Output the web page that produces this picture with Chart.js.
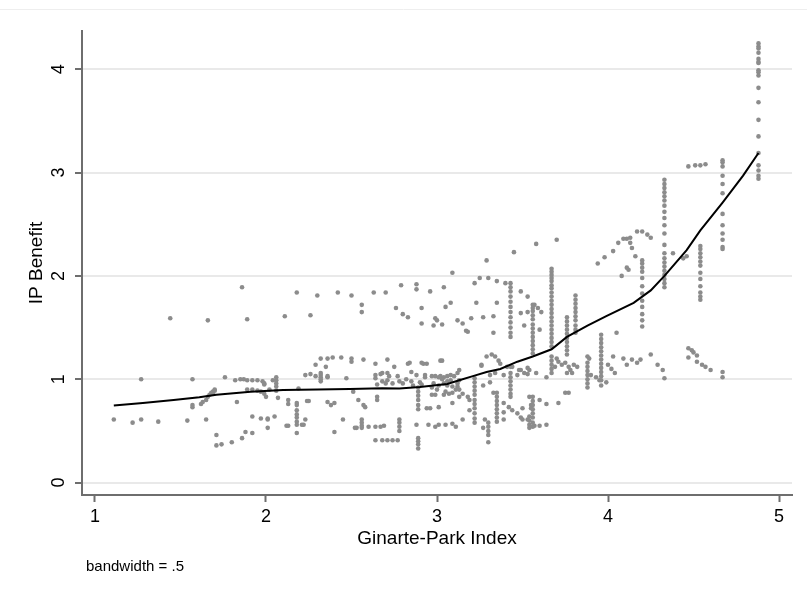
<!DOCTYPE html>
<html>
<head>
<meta charset="utf-8">
<script src="https://cdn.jsdelivr.net/npm/chart.js@4.4.1/dist/chart.umd.min.js"></script>
<style>
  html, body { margin: 0; padding: 0; background: #fff; }
  #wrap { width: 807px; height: 597px; }
</style>
</head>
<body>
<div id="wrap"><canvas id="myChart" width="807" height="597"></canvas></div>
<script>
// Axis ticks
const xTicks = [1, 2, 3, 4, 5];
const yTicks = [0, 1, 2, 3, 4];

// Lowess smooth (bandwidth .5)
const lowessX = [1.11, 1.28, 1.46, 1.61, 1.71, 1.91, 2.10, 2.30, 2.49, 2.68, 2.78, 2.90, 2.98, 3.06, 3.13, 3.21, 3.29, 3.37, 3.47, 3.56, 3.67, 3.76, 3.88, 3.99, 4.15, 4.25, 4.33, 4.46, 4.54, 4.67, 4.79, 4.88];
const lowessY = [0.745, 0.77, 0.80, 0.826, 0.85, 0.88, 0.896, 0.90, 0.906, 0.913, 0.91, 0.925, 0.94, 0.955, 0.99, 1.03, 1.07, 1.10, 1.17, 1.22, 1.29, 1.41, 1.52, 1.61, 1.74, 1.86, 2.0, 2.25, 2.44, 2.71, 2.97, 3.19];

// Scattered observations, [index, benefit]
const ptsLeft = [
  [1.11,0.61],[1.22,0.58],[1.27,0.61],[1.27,1.00],[1.37,0.59],[1.44,1.59],[1.54,0.60],[1.57,1.00],
  [1.57,0.73],[1.57,0.75],[1.65,0.61],[1.66,1.57],[1.62,0.76],[1.63,0.78],[1.65,0.80],[1.66,0.83],
  [1.67,0.85],[1.68,0.87],[1.69,0.88],[1.70,0.89],[1.70,0.90],[1.69,0.86],[1.71,0.46],[1.71,0.36],
  [1.74,0.37],[1.76,1.02],[1.80,0.39],[1.83,0.78],[1.86,1.89],[1.86,0.43],[1.88,0.49],[1.89,1.58],
  [1.92,0.48],[1.82,0.99],[1.85,1.00],[1.87,1.00],[1.89,0.99],[1.92,0.99],[1.95,0.99],[1.98,0.98],
  [1.99,0.95],[1.89,0.90],[1.92,0.90],[1.95,0.89],[1.97,0.88],[1.99,0.86],[2.02,0.90],[1.92,0.64],
  [1.97,0.62],[2.01,0.62],[2.05,0.64],[2.01,0.53],[2.00,0.83],[1.99,0.96],[2.04,0.99]
];

const ptsMid = [
  [2.18,1.84],[2.30,1.81],[2.42,1.84],[2.50,1.81],[2.63,1.84],[2.70,1.84],[2.79,1.91],[2.88,1.92],
  [2.88,1.87],[2.96,1.85],[2.11,1.61],[2.26,1.62],[2.56,1.72],[2.56,1.65],[2.76,1.69],[2.80,1.63],
  [2.83,1.60],[2.91,1.69],[2.91,1.54],[2.98,1.52],[2.99,1.59],
  [2.29,1.14],[2.32,1.20],[2.36,1.20],[2.39,1.21],[2.44,1.21],[2.50,1.20],[2.50,1.17],[2.57,1.19],
  [2.64,1.15],[2.71,1.19],[2.75,1.12],[2.83,1.15],[2.92,1.15],[2.94,1.15],[2.85,1.07],[2.35,1.12],
  [2.23,1.04],[2.26,1.05],[2.29,1.03],[2.36,1.02],[2.36,1.03],[2.47,1.01],[2.19,0.91],[2.07,0.82],
  [2.13,0.80],[2.13,0.76],[2.18,0.77],[2.25,0.79],[2.24,0.79],[2.36,0.78],[2.38,0.75],[2.40,0.77],
  [2.51,0.88],[2.54,0.80],[2.58,0.73],[2.65,0.83],[2.65,0.80],[2.57,0.75],
  [2.64,1.04],[2.68,1.06],[2.71,1.06],[2.72,1.03],[2.71,0.99],[2.68,0.98],[2.65,0.95],[2.70,0.96],
  [2.77,1.03],[2.78,0.98],[2.80,0.96],[2.82,1.00],[2.85,0.98],[2.86,0.94],[2.90,0.97],[2.91,0.95],
  [2.64,1.01],[2.67,1.05],[2.74,0.96],
  [2.01,0.61],[2.13,0.55],[2.12,0.55],[2.21,0.56],[2.23,0.61],[2.22,0.56],[2.40,0.49],[2.45,0.61],
  [2.53,0.53],[2.52,0.53],[2.60,0.54],[2.64,0.54],[2.67,0.54],[2.69,0.55],
  [2.64,0.41],[2.68,0.41],[2.71,0.41],[2.74,0.41],[2.77,0.41],
  [2.88,0.56],[2.95,0.56],[2.99,0.54],[3.01,0.56],[3.05,0.56],[3.09,0.57],[3.11,0.54]
];

const ptsCentre = [
  [2.97,1.03],[2.99,1.03],[3.02,1.03],[3.04,1.02],[3.06,1.03],[3.08,1.04],[3.02,1.18],[2.93,1.04],
  [2.98,0.96],[3.01,0.94],[3.04,0.96],[3.06,0.98],[3.06,0.94],[3.09,0.93],[3.12,0.93],[3.13,0.90],
  [3.11,0.90],[3.15,0.86],[3.18,0.83],[3.19,0.80],[3.13,0.83],[3.12,0.96],[3.13,0.99],[3.10,1.03],
  [3.12,1.06],[3.13,1.09],[2.84,1.16],[2.91,1.16],[3.03,1.00],[3.08,0.99],[2.97,0.92],[3.00,0.90],
  [3.05,0.88],[3.09,0.87],[2.88,1.04],[2.93,1.02],[3.01,1.02],
  [2.97,0.85],[2.99,0.85],[3.04,0.85],[3.07,0.86],[3.09,0.77],[2.96,0.72],[3.01,0.73],[2.94,0.72],
  [3.15,0.61],[3.19,0.70],
  [3.00,1.57],[3.03,1.53],[3.04,1.89],[3.05,1.70],[3.08,1.74],[3.09,2.03],[3.12,1.57],[3.15,1.54],
  [3.17,1.47],[3.18,1.46],[3.20,1.59],[3.22,1.93],[3.23,1.74],[3.25,1.98],[3.30,1.98],[3.29,2.15],
  [3.35,1.95],[3.27,1.60],[3.33,1.61],[3.33,1.45],[3.35,1.74],[3.40,1.93],[3.45,2.23],[3.49,1.85],
  [3.53,1.80],[3.49,1.64],[3.53,1.65],[3.51,1.52],[3.60,1.48],[3.58,2.31],[3.70,2.35],
  [3.57,1.72],[3.59,1.69],[3.61,1.65],
  [3.03,1.18],[3.26,1.13],[3.29,1.22],[3.32,1.24],[3.34,1.22],[3.36,1.18],[3.37,1.15],[3.26,1.14],
  [3.31,1.04],[3.34,1.06],[3.39,1.04],[3.43,1.12],[3.44,1.12],[3.48,1.09],[3.53,1.11],[3.53,1.05],
  [3.58,1.06],[3.41,1.12],[3.47,1.04],[3.49,1.09],[3.51,1.06],[3.54,1.09],[3.31,0.97],[3.27,0.94],
  [3.33,0.87],[3.35,0.87],[3.39,0.77],[3.39,0.68],[3.39,0.61],[3.42,0.73],[3.44,0.70],[3.47,0.67],
  [3.49,0.63],[3.50,0.61],[3.50,0.72],[3.53,0.61],[3.54,0.83],[3.55,0.75],[3.55,0.72],
  [3.57,0.55],[3.60,0.55],[3.64,0.56],[3.60,0.80],[3.64,0.76],[3.71,0.77],[3.75,0.87],[3.77,0.87],
  [3.28,0.61],[3.27,0.53],[3.64,1.02]
];

const ptsRight = [
  [3.71,1.17],[3.73,1.14],[3.75,1.16],[3.77,1.12],[3.78,1.09],[3.80,1.14],[3.82,1.12],[3.79,1.06],
  [3.76,1.06],[3.70,1.20],[3.69,1.12],[3.88,1.22],[3.89,1.20],[3.90,1.04],[3.93,1.02],[3.95,0.99],
  [3.99,0.97],[4.00,1.14],[4.02,1.10],[4.04,1.06],[4.03,1.22],[4.09,1.20],[4.11,1.14],[4.14,1.19],
  [4.17,1.16],[4.19,1.19],[4.25,1.24],[4.29,1.14],[4.32,1.09],[4.33,1.01],[4.05,1.45],
  [3.94,2.12],[3.98,2.18],[4.03,2.24],[4.06,2.32],[4.09,2.36],[4.11,2.36],[4.13,2.37],[4.17,2.43],
  [4.20,2.43],[4.23,2.40],[4.25,2.37],[4.13,2.32],[4.14,2.27],[4.16,2.19],[4.11,2.08],[4.12,2.06],
  [4.08,2.00],[4.38,2.22],[4.44,2.17],[4.46,2.19],
  [4.47,3.06],[4.51,3.07],[4.54,3.07],[4.57,3.08],
  [4.47,1.30],[4.49,1.28],[4.50,1.26],[4.52,1.23],[4.47,1.21],[4.52,1.17],[4.55,1.14],[4.57,1.12],
  [4.60,1.09],[4.67,1.07],[4.67,1.02]
];

// Vertical stacks of observations sharing one index value
const stackX = [2.06, 2.18, 2.32, 2.56, 2.78, 2.89, 2.89, 3.22, 3.30, 3.35, 3.43, 3.43, 3.54, 3.56, 3.67, 3.76, 3.81, 3.88, 3.96, 4.20, 4.33, 4.54, 4.67, 4.88];
const stackY = [
  [1.02, 0.99, 0.96, 0.93, 0.89],
  [0.75, 0.70, 0.66, 0.63, 0.59, 0.56, 0.48],
  [1.06, 1.04, 1.02, 1.00, 0.98],
  [0.61, 0.58, 0.55, 0.53],
  [0.61, 0.58, 0.54, 0.50],
  [0.92, 0.88, 0.84, 0.80, 0.75, 0.71],
  [0.43, 0.40, 0.37, 0.33],
  [1.01, 0.97, 0.93, 0.89, 0.85, 0.80, 0.76, 0.72, 0.67, 0.62, 0.58],
  [0.58, 0.54, 0.50, 0.46, 0.39],
  [0.83, 0.79, 0.75, 0.71, 0.67, 0.63, 0.59],
  [1.93, 1.89, 1.85, 1.80, 1.75, 1.70, 1.65, 1.60, 1.55, 1.50, 1.45, 1.41],
  [1.06, 1.02, 0.98, 0.94, 0.90, 0.86, 0.83],
  [0.64, 0.60, 0.56, 0.53],
  [1.72, 1.69, 1.66, 1.62, 1.58, 1.53, 1.49, 1.45, 1.41, 1.37, 1.33, 1.29, 1.25, 0.83, 0.79, 0.75, 0.71, 0.67, 0.63, 0.58, 0.54],
  [2.07, 2.04, 2.01, 1.98, 1.95, 1.91, 1.88, 1.84, 1.80, 1.76, 1.72, 1.68, 1.64, 1.60, 1.56, 1.52, 1.48, 1.44, 1.40, 1.36, 1.32, 1.22, 1.18, 1.14, 1.10, 1.06],
  [1.60, 1.56, 1.52, 1.48, 1.44, 1.40, 1.36, 1.32, 1.28, 1.24],
  [1.81, 1.77, 1.73, 1.69, 1.65, 1.61, 1.57, 1.52, 1.48, 1.45],
  [1.16, 1.12, 1.08, 1.04, 1.00, 0.96, 0.92],
  [1.43, 1.39, 1.35, 1.31, 1.27, 1.23, 1.19, 1.15, 1.11, 1.07, 1.03, 0.99, 0.94],
  [2.15, 2.12, 2.08, 2.04, 1.98, 1.90, 1.83, 1.76, 1.70, 1.63, 1.57, 1.51],
  [2.93, 2.89, 2.85, 2.81, 2.77, 2.73, 2.68, 2.62, 2.56, 2.49, 2.41, 2.30, 2.22, 2.17, 2.13, 2.09, 2.05, 2.01, 1.97, 1.93, 1.89],
  [2.29, 2.26, 2.22, 2.18, 2.14, 2.10, 2.03, 1.97, 1.90, 1.84, 1.80, 1.77],
  [3.12, 3.10, 3.06, 2.97, 2.89, 2.80, 2.60, 2.49, 2.41, 2.35, 2.28, 2.26],
  [4.25, 4.22, 4.20, 4.16, 4.10, 4.07, 4.06, 3.99, 3.97, 3.94, 3.82, 3.68, 3.51, 3.35, 3.19, 3.07, 3.02, 2.97, 2.94]
];

const xTitle = 'Ginarte-Park Index';
const yTitle = 'IP Benefit';
const note = 'bandwidth = .5';

// Build chart data
const scatterData = [];
[ptsLeft, ptsMid, ptsCentre, ptsRight].forEach(group => {
    group.forEach(p => scatterData.push({ x: p[0], y: p[1] }));
});
stackX.forEach((x, i) => {
    stackY[i].forEach(y => scatterData.push({ x: x, y: y }));
});
const lowessData = lowessX.map((x, i) => ({ x: x, y: lowessY[i] }));

const FONT = '"Liberation Sans", Arial, Helvetica, sans-serif';

// Titles, rotated y tick labels, note and frame line
const stataText = {
    id: 'stataText',
    beforeDraw(chart) {
        const ctx = chart.ctx;
        ctx.save();
        ctx.fillStyle = '#ffffff';
        ctx.fillRect(0, 0, chart.width, chart.height);
        ctx.strokeStyle = '#eeeeee';
        ctx.lineWidth = 1;
        ctx.beginPath();
        ctx.moveTo(0, 9.5);
        ctx.lineTo(chart.width, 9.5);
        ctx.stroke();
        ctx.restore();
    },
    afterDraw(chart) {
        const ctx = chart.ctx;
        const yScale = chart.scales.y;
        const area = chart.chartArea;
        ctx.save();
        ctx.fillStyle = '#000000';
        ctx.textAlign = 'center';
        ctx.textBaseline = 'middle';

        // y tick labels, rotated
        ctx.font = '18px ' + FONT;
        yTicks.forEach(v => {
            const py = yScale.getPixelForValue(v);
            ctx.save();
            ctx.translate(59, py);
            ctx.rotate(-Math.PI / 2);
            ctx.fillText(String(v), 0, 0);
            ctx.restore();
        });

        // axis titles
        ctx.font = '19px ' + FONT;
        ctx.fillText(xTitle, (area.left + area.right) / 2, 539);
        ctx.save();
        ctx.translate(37, (area.top + area.bottom) / 2);
        ctx.rotate(-Math.PI / 2);
        ctx.fillText(yTitle, 0, 0);
        ctx.restore();

        // note
        ctx.font = '15px ' + FONT;
        ctx.textAlign = 'left';
        ctx.fillText(note, 86, 567);
        ctx.restore();
    }
};

const ctx = document.getElementById('myChart').getContext('2d');
new Chart(ctx, {
    type: 'scatter',
    data: {
        datasets: [{
            label: 'IP Benefit',
            data: scatterData,
            pointRadius: 2.3,
            pointHoverRadius: 2.3,
            pointBackgroundColor: '#8c8c8c',
            pointBorderWidth: 0,
            order: 2
        }, {
            label: 'lowess',
            type: 'line',
            data: lowessData,
            borderColor: '#000000',
            borderWidth: 2,
            pointRadius: 0,
            fill: false,
            tension: 0,
            order: 1
        }]
    },
    options: {
        responsive: false,
        animation: false,
        events: [],
        layout: { padding: { top: 31, right: 15, left: 0, bottom: 0 } },
        plugins: {
            legend: { display: false },
            tooltip: { enabled: false }
        },
        scales: {
            x: {
                type: 'linear',
                min: 0.924,
                max: 5.076,
                afterFit: s => { s.height = 102; },
                afterBuildTicks: s => { s.ticks = xTicks.map(v => ({ value: v })); },
                ticks: {
                    color: '#000000',
                    font: { family: FONT, size: 18 },
                    padding: 4
                },
                grid: {
                    drawOnChartArea: false,
                    tickLength: 7,
                    tickColor: '#6e6e6e',
                    tickWidth: 2
                },
                border: { color: '#6e6e6e', width: 2 }
            },
            y: {
                type: 'linear',
                min: -0.12,
                max: 4.37,
                afterFit: s => { s.width = 82; },
                afterBuildTicks: s => { s.ticks = yTicks.map(v => ({ value: v })); },
                ticks: { display: false },
                grid: {
                    color: '#e9e9e9',
                    lineWidth: 2,
                    tickLength: 7,
                    tickColor: '#6e6e6e',
                    tickWidth: 2
                },
                border: { color: '#6e6e6e', width: 2 }
            }
        }
    },
    plugins: [stataText]
});
</script>
</body>
</html>
